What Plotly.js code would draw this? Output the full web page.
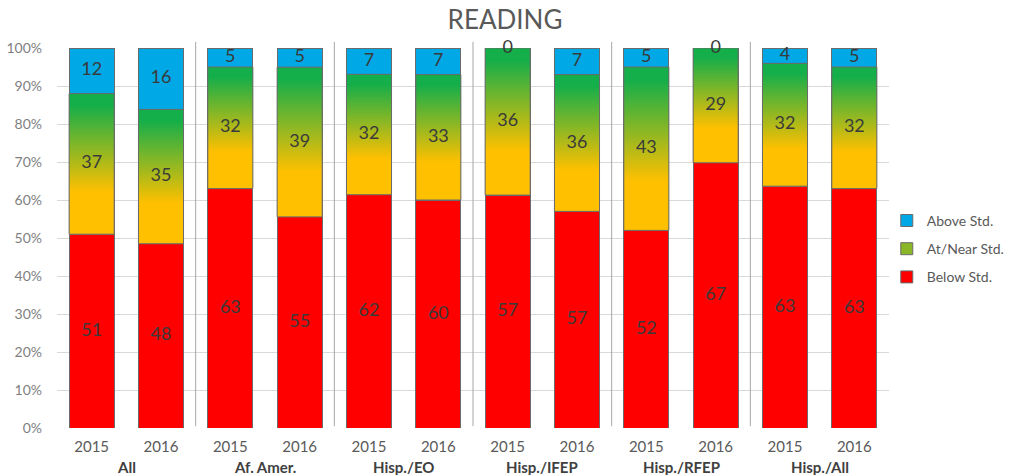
<!DOCTYPE html>
<html>
<head>
<meta charset="utf-8">
<script src="https://cdn.plot.ly/plotly-3.0.1.min.js"></script>
<style>
  html, body { margin: 0; padding: 0; background: #fff; }
  #chart { width: 1010px; height: 475px; }
</style>
</head>
<body>
<div id="chart"></div>
<script>
// reading results by group and year (counts, shown as 100% stacked)
const groups = ['All', 'Af. Amer.', 'Hisp./EO', 'Hisp./IFEP', 'Hisp./RFEP', 'Hisp./All'];
const years = ['2015', '2016', '2015', '2016', '2015', '2016', '2015', '2016', '2015', '2016', '2015', '2016'];
const belowStd = [51, 48, 63, 55, 62, 60, 57, 57, 52, 67, 63, 63];
const nearStd = [37, 35, 32, 39, 32, 33, 36, 36, 43, 29, 32, 32];
const aboveStd = [12, 16, 5, 5, 7, 7, 0, 7, 5, 0, 4, 5];

const BAR_W = 0.65;
const FONT = 'Lato, "Open Sans", sans-serif';
const EDGE = { color: '#6b6b6b', width: 1 };
const xs = years.map((_, i) => i);

const totals = xs.map(i => belowStd[i] + nearStd[i] + aboveStd[i]);
const pct = (arr) => arr.map((v, i) => v / totals[i] * 100);
const belowPct = pct(belowStd);
const nearPct = pct(nearStd);
const abovePct = pct(aboveStd);

const barTrace = (name, vals, color, rank) => ({
  type: 'bar',
  name: name,
  x: xs,
  y: vals,
  width: BAR_W,
  legendgroup: name,
  legendrank: rank,
  marker: { color: color, line: EDGE },
  hoverinfo: 'skip'
});

const traces = [
  barTrace('Below Std.', belowStd, '#FF0000', 3),
  barTrace('At/Near Std.', nearStd, '#8AB627', 2),
  barTrace('Above Std.', aboveStd, '#00A9E6', 1)
];

// middle segment gets a yellow->green gradient, drawn over the stacked bar
xs.forEach(i => {
  const lo = belowPct[i];
  const hi = belowPct[i] + nearPct[i];
  const x0 = i - BAR_W / 2, x1 = i + BAR_W / 2;
  traces.push({
    type: 'scatter',
    mode: 'lines',
    x: [x0, x1, x1, x0, x0],
    y: [lo, lo, hi, hi, lo],
    fill: 'toself',
    fillgradient: {
      type: 'vertical',
      colorscale: [[0, '#FFC000'], [0.3, '#FFC000'], [0.92, '#14AE4A'], [1, '#14AE4A']]
    },
    line: EDGE,
    showlegend: false,
    hoverinfo: 'skip'
  });
});

// value labels in the middle of each segment
const labelTrace = (vals, base, size) => ({
  type: 'scatter',
  mode: 'text',
  x: xs,
  y: xs.map(i => base[i] + size[i] / 2),
  text: vals.map(String),
  textfont: { family: FONT, size: 18, color: '#3a3a3a' },
  cliponaxis: false,
  showlegend: false,
  hoverinfo: 'skip'
});
const zeros = xs.map(() => 0);
const belowTop = xs.map(i => belowPct[i] + nearPct[i]);
traces.push(labelTrace(belowStd, zeros, belowPct));
traces.push(labelTrace(nearStd, belowPct, nearPct));
traces.push(labelTrace(aboveStd, belowTop, abovePct));

const nBars = years.length;
const dividers = groups.slice(1).map((_, k) => ({
  type: 'line',
  xref: 'paper', yref: 'paper',
  x0: (2 * k + 2) / nBars, x1: (2 * k + 2) / nBars,
  y0: 0.005, y1: 1.016,
  line: { color: '#a6a6a6', width: 1 }
}));

const groupLabels = groups.map((g, k) => ({
  text: '<b>' + g + '</b>',
  xref: 'paper', yref: 'paper',
  x: (2 * k + 1) / nBars, y: 0,
  xanchor: 'center', yanchor: 'top', yshift: -28,
  showarrow: false,
  font: { family: FONT, size: 15, color: '#404040' }
}));

const layout = {
  width: 1010,
  height: 475,
  font: { family: FONT },
  title: {
    text: 'READING',
    font: { family: FONT, size: 26, color: '#595959' },
    xref: 'container', x: 0.5,
    yref: 'container', y: 0.958, yanchor: 'middle'
  },
  barmode: 'stack',
  barnorm: 'percent',
  xaxis: {
    range: [-0.5, nBars - 0.5],
    tickvals: xs,
    ticktext: years,
    showgrid: false,
    zeroline: false,
    showline: false,
    ticks: '',
    ticklabelstandoff: 8,
    tickfont: { family: FONT, size: 15, color: '#595959' }
  },
  yaxis: {
    range: [0, 100],
    dtick: 10,
    ticksuffix: '%',
    showgrid: true,
    gridcolor: '#d9d9d9',
    zeroline: false,
    ticks: '',
    ticklabelstandoff: 14,
    tickfont: { family: FONT, size: 14, color: '#7f7f7f' }
  },
  legend: {
    xref: 'container', x: 0.878, xanchor: 'left',
    yref: 'container', y: 0.476, yanchor: 'middle',
    traceorder: 'grouped',
    tracegroupgap: 7,
    itemwidth: 30,
    bgcolor: 'rgba(0,0,0,0)',
    font: { family: FONT, size: 14, color: '#595959' }
  },
  shapes: dividers,
  annotations: groupLabels,
  plot_bgcolor: '#ffffff',
  paper_bgcolor: '#ffffff',
  showlegend: true,
  margin: { t: 48, b: 47, l: 57, r: 121, autoexpand: false }
};

Plotly.newPlot('chart', traces, layout, { displayModeBar: false, responsive: false });
</script>
</body>
</html>
